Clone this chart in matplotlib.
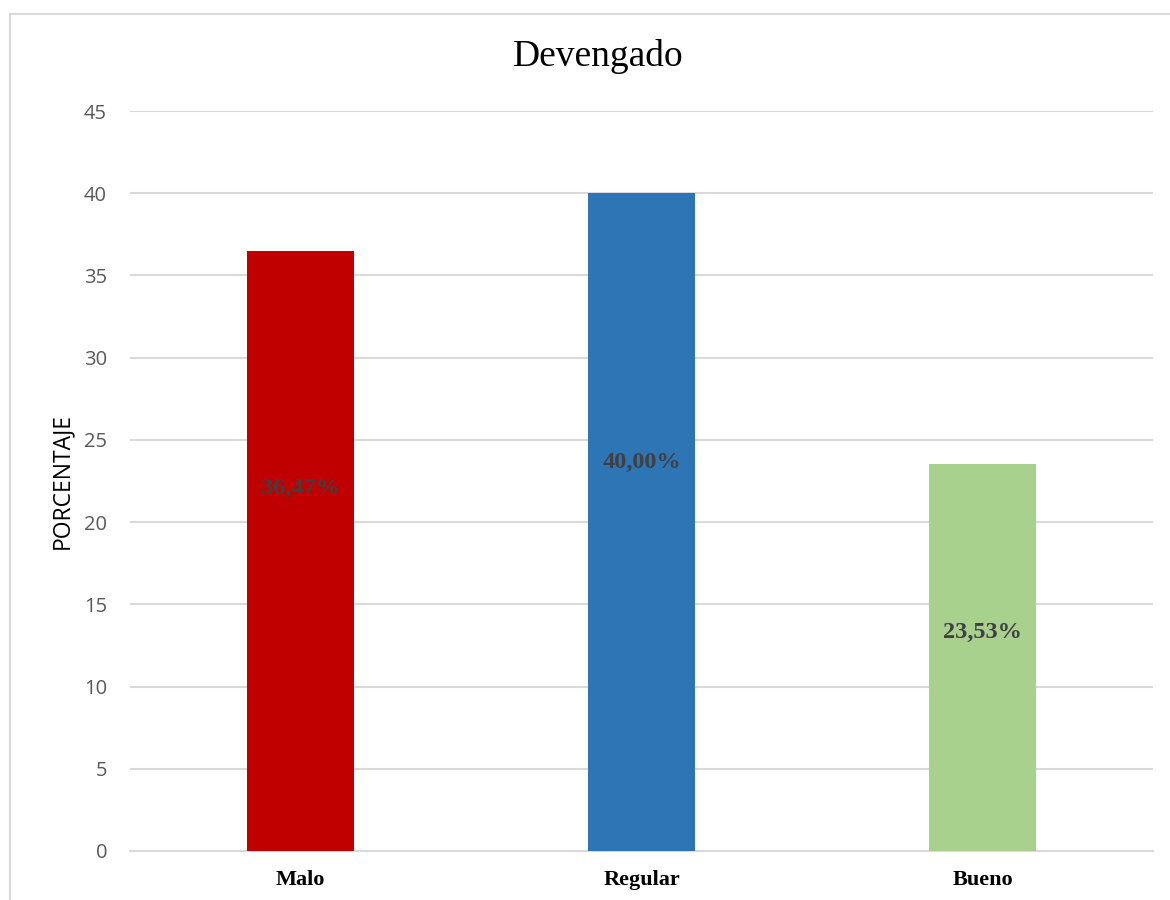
import matplotlib
matplotlib.use("Agg")
import matplotlib.pyplot as plt
from matplotlib.patches import Rectangle

categorias = ["Malo", "Regular", "Bueno"]
porcentajes = [36.47, 40.00, 23.53]
etiquetas = ["36,47%", "40,00%", "23,53%"]
colores = ["#C00000", "#2E75B6", "#A9D18E"]
yticks = [0, 5, 10, 15, 20, 25, 30, 35, 40, 45]

fig = plt.figure(figsize=(11.7, 9), dpi=100)
ax = fig.add_axes([130 / 1170, 49 / 900, 1023 / 1170, 740 / 900])

x = range(len(categorias))
ax.bar(x, porcentajes, width=0.314, color=colores, zorder=3)

# label heights inside the bars (as fraction of the bar)
frac = [0.605, 0.59, 0.565]
for i, v in enumerate(porcentajes):
    ax.text(i, v * frac[i], etiquetas[i], ha="center", va="center",
            fontsize=17.5, fontweight="bold", color="#404040",
            family="Liberation Serif", zorder=4)

ax.set_xlim(-0.5, 2.5)
ax.set_ylim(0, 45)
ax.set_yticks(yticks)
ax.set_xticks(list(x))
ax.set_xticklabels(categorias, family="Liberation Serif", fontweight="bold",
                   fontsize=16, color="black")
ax.set_yticklabels([str(t) for t in yticks], family="Open Sans", fontsize=14.5,
                   color="#595959")
ax.tick_params(axis="y", length=0, pad=16.5)
ax.tick_params(axis="x", length=0, pad=14)
ax.grid(axis="y", color="#D9D9D9", linewidth=1.5, zorder=0)
for s in ["top", "right", "left"]:
    ax.spines[s].set_visible(False)
ax.spines["bottom"].set_color("#D9D9D9")
ax.spines["bottom"].set_linewidth(1.5)

ax.set_ylabel("PORCENTAJE", family="Open Sans", fontsize=16.5, color="black",
              labelpad=7)

fig.text(598 / 1170, 1 - 57 / 900, "Devengado", ha="center", va="center",
         family="Liberation Serif", fontsize=27, color="black")

# outer chart frame
fig.patches.append(Rectangle((10 / 1170, -0.05), 1.2, 1 - 14 / 900 + 0.05,
                             transform=fig.transFigure, fill=False,
                             edgecolor="#D9D9D9", linewidth=1.5))

fig.savefig("out.png", dpi=100)
